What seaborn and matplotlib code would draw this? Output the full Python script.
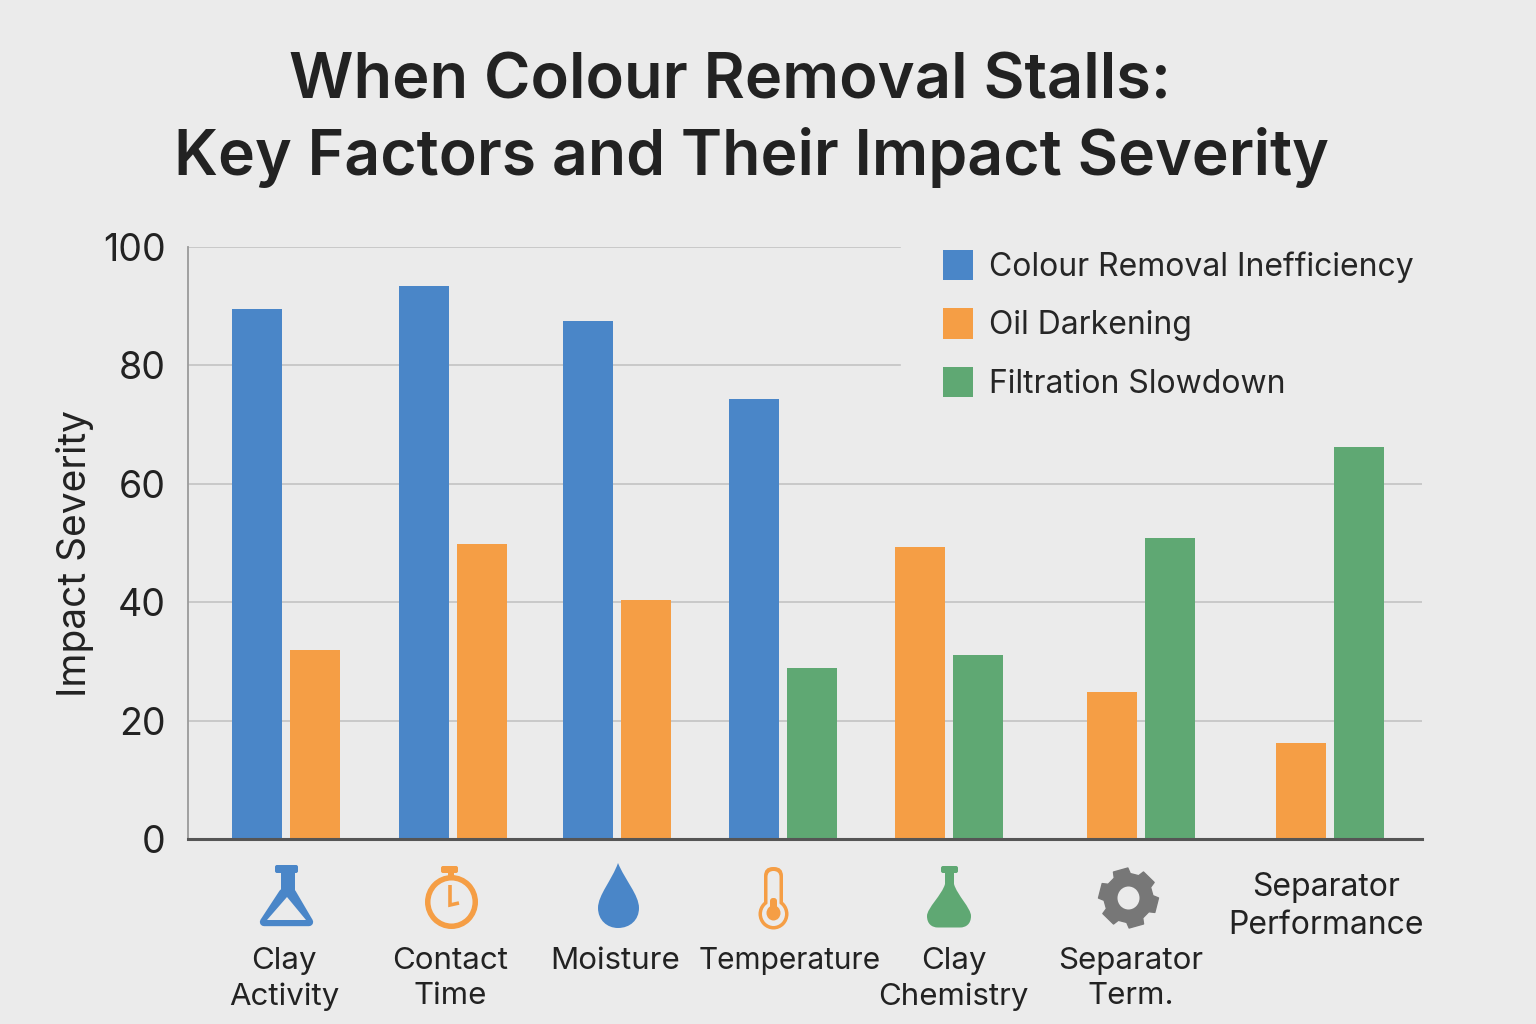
import matplotlib.pyplot as plt
import matplotlib.patches as mpatches
from matplotlib.path import Path
from matplotlib.transforms import Affine2D
import numpy as np
import pandas as pd
import seaborn as sns

# Values
factors = ['Clay\nActivity', 'Contact\nTime', 'Moisture', 'Temperature',
           'Clay\nChemistry', 'Separator\nTerm.', 'Separator\nPerformance']
series_names = ['Colour Removal Inefficiency', 'Oil Darkening', 'Filtration Slowdown']
colour_removal = [89.5, 93.4, 87.5, 74.3, None, None, None]
oil_darkening = [32.0, 49.9, 40.3, None, 49.4, 24.8, 16.2]
filtration = [None, None, None, 28.9, 31.1, 50.9, 66.2]

# Layout: groups are not evenly spaced in the original
group_pos = [0, 1.008, 2, 3, 4, 5.16, 6.3]
label_pos = [-0.01, 0.99, 1.985, 3.04, 4.03, 5.1, 6.28]
bar_step = 0.35

BG = '#EBEBEB'
BLUE = '#4A86C8'
ORANGE = '#F59E45'
GREEN = '#5FA873'
GREY = '#777777'
INK = '#222222'

sns.set_theme(style='whitegrid', rc={
    'figure.facecolor': BG, 'axes.facecolor': BG, 'savefig.facecolor': BG,
    'grid.color': '#C6C6C6', 'grid.linewidth': 1.3,
})
plt.rcParams['font.family'] = ['Inter', 'DejaVu Sans']

# Long table, bars in a group are centred on the series that exist there
rows = []
all_values = [colour_removal, oil_darkening, filtration]
for g in range(len(factors)):
    present = [s for s in range(3) if all_values[s][g] is not None]
    for k, s in enumerate(present):
        offset = (k - (len(present) - 1) / 2) * bar_step
        rows.append({'pos': group_pos[g] + offset, 'severity': all_values[s][g],
                     'series': series_names[s]})
df = pd.DataFrame(rows)

fig = plt.figure(figsize=(15.36, 10.24), dpi=100)
ax = fig.add_axes([188 / 1536, 1 - 839 / 1024, 1234 / 1536, 592 / 1024])

sns.barplot(data=df, x='pos', y='severity', hue='series', hue_order=series_names,
            palette=[BLUE, ORANGE, GREEN], native_scale=True, dodge=False,
            width=0.86, saturation=1, linewidth=0, ax=ax)

ax.set_xlim(-0.591, 6.857)
ax.set_ylim(0, 100)
ax.set_yticks(range(0, 101, 20))
ax.grid(False, axis='x')
ax.set_xlabel('')
ax.set_ylabel('Impact Severity', fontsize=28, color=INK)
ax.yaxis.set_label_coords(-0.076, 0.483)
ax.tick_params(axis='y', labelsize=27, labelcolor=INK, length=0, pad=16)

ax.set_xticks(label_pos, labels=factors)
ax.tick_params(axis='x', labelsize=22.5, labelcolor=INK, length=0, pad=78)
for lab in ax.get_xticklabels():
    lab.set_linespacing(1.3)
ax.get_xticklabels()[3].set_fontsize(21.5)
ax.get_xticklabels()[-1].set_fontsize(23)
ax.xaxis.get_major_ticks()[-1].set_pad(23.5)

for side in ['top', 'right']:
    ax.spines[side].set_visible(False)
ax.spines['left'].set_color('#9A9A9A')
ax.spines['left'].set_linewidth(1.3)
ax.spines['bottom'].set_color('#555555')
ax.spines['bottom'].set_linewidth(2.2)

handles, labels = ax.get_legend_handles_labels()
ax.legend(handles, labels, loc='upper left', bbox_to_anchor=((901 - 188) / 1234, 1.066),
          fontsize=23, frameon=True, facecolor=BG, edgecolor=BG, framealpha=1,
          handlelength=0.94, handleheight=1.1, handletextpad=0.5, labelspacing=0.79,
          borderpad=1.31, borderaxespad=0, fancybox=False)

# Title lines have their own centres in the original
fig.text(730 / 1536, 1 - 82 / 1024, 'When Colour Removal Stalls:', fontsize=45.5,
         fontweight='semibold', color=INK, ha='center', va='center')
fig.text(751 / 1536, 1 - 157 / 1024, 'Key Factors and Their Impact Severity', fontsize=45,
         fontweight='semibold', color=INK, ha='center', va='center')

# Icons under the axis, drawn in pixel coordinates of the figure
px = Affine2D().scale(1 / 1536, -1 / 1024).translate(0, 1) + fig.transFigure


def add(patch):
    patch.set_transform(px)
    fig.add_artist(patch)


def poly(points, color, lw=0):
    add(mpatches.Polygon(points, closed=True, facecolor=color, edgecolor=color,
                         linewidth=lw, joinstyle='round'))


def box(x0, y0, x1, y1, color, r=2):
    add(mpatches.FancyBboxPatch((x0 + r, y0 + r), x1 - x0 - 2 * r, y1 - y0 - 2 * r,
                                boxstyle=f'round,pad={r},rounding_size={r}',
                                facecolor=color, edgecolor='none'))


def ellipse(cx, cy, w, h, color):
    add(mpatches.Ellipse((cx, cy), w, h, facecolor=color, edgecolor='none'))


# blue flask
box(275, 865, 298, 873, BLUE)
box(281, 870, 295, 896, BLUE, r=0.5)
poly([(283, 893), (292, 893), (309, 922), (264, 922)], BLUE, lw=6)
poly([(287, 897), (306, 920), (267, 920)], BG)

# stopwatch
box(441, 866, 458, 873, ORANGE)
box(448, 872, 454, 878, ORANGE, r=0.5)
ellipse(451.5, 902, 53, 54, ORANGE)
ellipse(451.5, 902, 42, 43, BG)
add(mpatches.PathPatch(Path([(450, 885), (450, 905), (459, 903)]), facecolor='none',
                       edgecolor=ORANGE, linewidth=2.6, capstyle='butt'))

# drop
drop = Path([(618, 863), (612, 880), (598, 895), (598, 908),
             (598, 920), (607, 928), (618, 928),
             (630, 928), (639, 920), (639, 908),
             (639, 895), (625, 880), (618, 863)],
            [Path.MOVETO] + [Path.CURVE4] * 12)
add(mpatches.PathPatch(drop, facecolor=BLUE, edgecolor='none'))

# thermometer
box(764, 867, 783, 915, ORANGE, r=9)
ellipse(773.5, 914, 30, 31, ORANGE)
box(767.5, 871, 779.5, 915, BG, r=6)
ellipse(773.5, 914, 23, 24, BG)
box(770, 898, 777, 915, ORANGE, r=3)
ellipse(773.5, 913, 14, 15, ORANGE)

# green flask
box(941, 866, 958, 873, GREEN)
flask = Path([(945, 871), (945, 884),
              (942, 895), (927, 908), (927, 916),
              (927, 924), (932, 927.5), (938, 927.5),
              (960, 927.5),
              (966, 927.5), (971, 924), (971, 916),
              (971, 908), (957, 895), (954, 884),
              (954, 871), (945, 871)],
             [Path.MOVETO, Path.LINETO] + [Path.CURVE4] * 6 + [Path.LINETO]
             + [Path.CURVE4] * 6 + [Path.LINETO, Path.CLOSEPOLY])
add(mpatches.PathPatch(flask, facecolor=GREEN, edgecolor='none'))

# gear
teeth = 6
angles, radii = [], []
for i in range(teeth):
    start = 2 * np.pi * i / teeth + 0.25
    step = 2 * np.pi / teeth
    angles += [start - 0.33 * step, start - 0.24 * step, start + 0.24 * step, start + 0.33 * step]
    radii += [24.5, 30, 30, 24.5]
gear_pts = [(1128.5 + r * np.cos(a), 898 + r * np.sin(a)) for a, r in zip(angles, radii)]
poly(gear_pts, GREY, lw=1)
ellipse(1128.5, 898, 22, 23, BG)

fig.savefig('out.png', dpi=100)
